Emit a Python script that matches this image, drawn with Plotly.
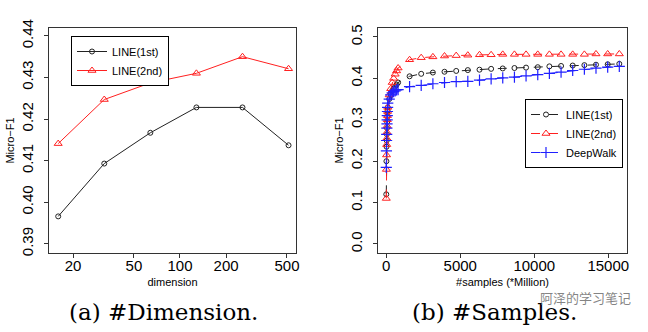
import plotly.graph_objects as go

# (a) dimension sweep
dims = [16, 32, 64, 128, 256, 512]
line1_dim = [0.3966, 0.4093, 0.4167, 0.4228, 0.4228, 0.4137]
line2_dim = [0.4141, 0.4247, 0.4287, 0.4310, 0.4350, 0.4321]

# (b) number of samples (million)
samples = [1, 10, 20, 30, 40, 50, 60, 70, 80, 90, 100,
           200, 300, 400, 500, 600, 700, 800,
           1575, 2360, 3150, 3935, 4725, 5510, 6300, 7085, 7870, 8660,
           9445, 10235, 11020, 11810, 12595, 13385, 14170, 14960, 15745]
line1_smp = [0.12, 0.20, 0.235, 0.25, 0.265, 0.28, 0.295, 0.307, 0.315, 0.323, 0.33,
             0.35, 0.36, 0.37, 0.375, 0.38, 0.385, 0.39,
             0.405, 0.411, 0.414, 0.416, 0.418, 0.420, 0.421, 0.423, 0.424, 0.425,
             0.426, 0.427, 0.429, 0.430, 0.431, 0.432, 0.433, 0.434, 0.435]
line2_smp = [0.11, 0.18, 0.215, 0.24, 0.255, 0.27, 0.285, 0.30, 0.31, 0.32, 0.33,
             0.36, 0.375, 0.39, 0.40, 0.41, 0.418, 0.425,
             0.445, 0.450, 0.452, 0.454, 0.455, 0.456, 0.457, 0.457, 0.458, 0.458,
             0.458, 0.458, 0.458, 0.458, 0.458, 0.458, 0.459, 0.459, 0.459]
deepwalk_smp = [0.185, 0.225, 0.25, 0.265, 0.28, 0.29, 0.30, 0.31, 0.32, 0.33, 0.34,
                0.35, 0.36, 0.365, 0.368, 0.37, 0.372, 0.373,
                0.380, 0.383, 0.387, 0.390, 0.392, 0.393, 0.396, 0.399, 0.401, 0.403,
                0.406, 0.409, 0.412, 0.415, 0.419, 0.422, 0.425, 0.427, 0.429]

dim_ticks = [20, 50, 100, 200, 500]
f1_ticks_a = [0.39, 0.40, 0.41, 0.42, 0.43, 0.44]
smp_ticks = [0, 5000, 10000, 15000]
smp_ticktext = ["0", "5000", "10000", "15000"]
f1_ticks_b = [0.0, 0.1, 0.2, 0.3, 0.4, 0.5]

BLACK = "#222222"
RED = "#ff2020"
BLUE = "#2020ff"
FONT = "Liberation Sans, Arial, sans-serif"

W, H = 648, 332

fig = go.Figure()

fig.add_trace(go.Scatter(
    x=dims, y=line1_dim, mode="lines+markers", name="LINE(1st)",
    line=dict(color=BLACK, width=1),
    marker=dict(symbol="circle-open", size=5, color=BLACK, line=dict(width=1)),
    xaxis="x", yaxis="y", legend="legend"))
fig.add_trace(go.Scatter(
    x=dims, y=line2_dim, mode="lines+markers", name="LINE(2nd)",
    line=dict(color=RED, width=1),
    marker=dict(symbol="triangle-up-open", size=7, color=RED, line=dict(width=1)),
    xaxis="x", yaxis="y", legend="legend"))

fig.add_trace(go.Scatter(
    x=samples, y=line1_smp, mode="lines+markers", name="LINE(1st)",
    line=dict(color=BLACK, width=1, dash="dash"),
    marker=dict(symbol="circle-open", size=5, color=BLACK, line=dict(width=1)),
    xaxis="x2", yaxis="y2", legend="legend2"))
fig.add_trace(go.Scatter(
    x=samples, y=line2_smp, mode="lines+markers", name="LINE(2nd)",
    line=dict(color=RED, width=1, dash="dash"),
    marker=dict(symbol="triangle-up-open", size=7, color=RED, line=dict(width=1)),
    xaxis="x2", yaxis="y2", legend="legend2"))
fig.add_trace(go.Scatter(
    x=samples, y=deepwalk_smp, mode="lines+markers", name="DeepWalk",
    line=dict(color=BLUE, width=1, dash="dash"),
    marker=dict(symbol="cross-thin-open", size=8, color=BLUE, line=dict(width=1.2, color=BLUE)),
    xaxis="x2", yaxis="y2", legend="legend2"))

axis_common = dict(
    showline=True, linecolor="#333333", linewidth=1, mirror=True,
    ticks="outside", ticklen=4, tickcolor="#333333", showgrid=False, zeroline=False,
    tickfont=dict(size=15, color="black", family=FONT), automargin=False,
)

fig.update_layout(
    width=W, height=H,
    margin=dict(l=0, r=0, t=0, b=0, autoexpand=False),
    paper_bgcolor="white", plot_bgcolor="white",
    font=dict(family=FONT, color="black"),
    xaxis=dict(domain=[0.0756, 0.4568], anchor="y", type="log",
               range=[1.144, 2.758], tickvals=dim_ticks, ticklabelstandoff=-5,
               title=dict(text="dimension", font=dict(size=11), standoff=5),
               **axis_common),
    yaxis=dict(domain=[0.238, 0.9157], anchor="x",
               range=[0.3878, 0.4419], tickvals=f1_ticks_a, tickformat=".2f",
               tickangle=-90, ticklabelstandoff=5,
               title=dict(text="Micro\u2212F1", font=dict(size=11), standoff=2),
               **axis_common),
    xaxis2=dict(domain=[0.5833, 0.9676], anchor="y2",
                range=[-560, 16265], tickvals=smp_ticks, ticktext=smp_ticktext,
                ticklabelstandoff=-5,
                title=dict(text="#samples (*Million)", font=dict(size=11), standoff=5),
                **axis_common),
    yaxis2=dict(domain=[0.238, 0.9157], anchor="x2",
                range=[-0.0217, 0.5217], tickvals=f1_ticks_b, tickformat=".1f",
                tickangle=-90, ticklabelstandoff=5,
                title=dict(text="Micro\u2212F1", font=dict(size=11), standoff=2),
                **axis_common),
    legend=dict(x=71 / W, y=1 - 36 / H, xanchor="left", yanchor="top",
                bgcolor="white", bordercolor="black", borderwidth=1,
                font=dict(size=11, family=FONT), tracegroupgap=0),
    legend2=dict(x=623 / W, y=1 - 99 / H, xanchor="right", yanchor="top",
                 bgcolor="white", bordercolor="black", borderwidth=1,
                 font=dict(size=11, family=FONT), tracegroupgap=0),
    showlegend=True,
)

# captions and watermark, positioned in pixels then converted to paper fractions
fig.add_annotation(text="(a) #Dimension.", x=163 / W, y=1 - 312 / H, xref="paper", yref="paper",
                   xanchor="center", yanchor="middle", showarrow=False,
                   font=dict(size=23, family="DejaVu Serif, serif"))
fig.add_annotation(text="(b) #Samples.", x=495 / W, y=1 - 312 / H, xref="paper", yref="paper",
                   xanchor="center", yanchor="middle", showarrow=False,
                   font=dict(size=23, family="DejaVu Serif, serif"))
fig.add_annotation(text="阿泽的学习笔记", x=538 / W, y=1 - 297 / H, xref="paper", yref="paper",
                   xanchor="left", yanchor="middle", showarrow=False,
                   font=dict(size=13, family="Noto Sans CJK SC", color="rgba(110,110,110,0.85)"))

# drop the default 8px body margin so the figure sits at the window's corner
fig.write_html("out.html", config={"displayModeBar": False},
               post_script="document.body.style.margin='0';")
